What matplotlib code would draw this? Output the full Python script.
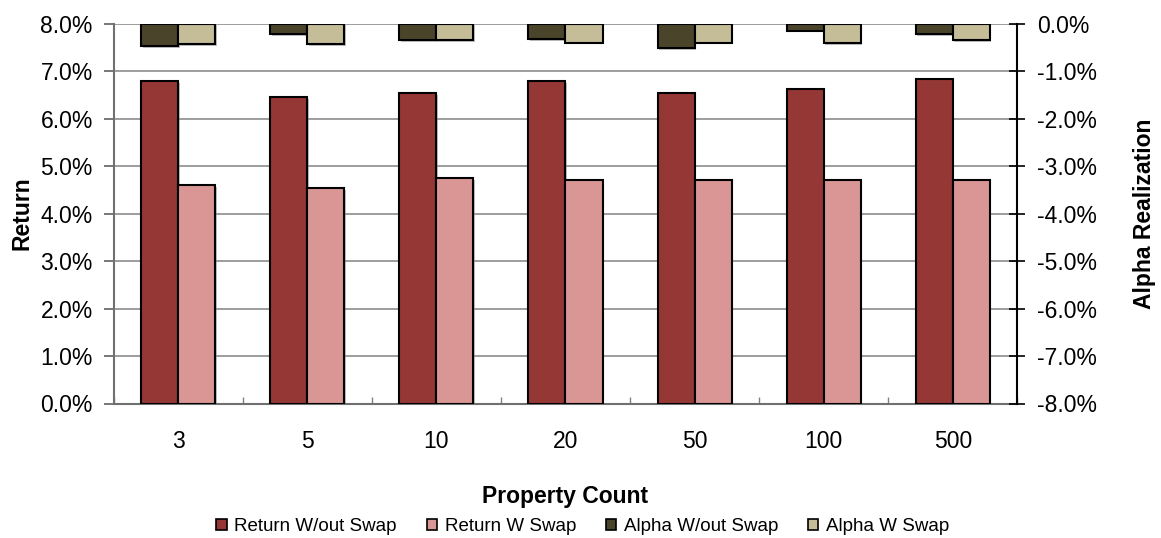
import matplotlib
matplotlib.use("Agg")
import matplotlib.pyplot as plt
import matplotlib.patheffects as pe
from matplotlib.patches import Patch
from matplotlib.ticker import FuncFormatter, MultipleLocator
import numpy as np

plt.rcParams['font.family'] = ['Liberation Sans', 'DejaVu Sans']

categories = ["3", "5", "10", "20", "50", "100", "500"]
return_without_swap = [6.79, 6.45, 6.54, 6.79, 6.54, 6.62, 6.83]
return_with_swap = [4.59, 4.54, 4.75, 4.71, 4.71, 4.71, 4.71]
alpha_without_swap = [-0.47, -0.23, -0.35, -0.33, -0.52, -0.15, -0.23]
alpha_with_swap = [-0.44, -0.44, -0.35, -0.40, -0.40, -0.41, -0.35]

c_ret_wo = "#953735"
c_ret_w = "#D99694"
c_alp_wo = "#4A442A"
c_alp_w = "#C4BD97"

fs = 16.5

fig = plt.figure(figsize=(11.61, 5.38), dpi=100)
ax = fig.add_axes([0.0979, 0.25, 0.7783, 0.7063])
ax2 = ax.twinx()

x = np.arange(len(categories))
w = 0.287
shadow = [pe.SimplePatchShadow(offset=(1.2, -1.2), shadow_rgbFace="#808080", alpha=0.5), pe.Normal()]
edge = dict(edgecolor="black", linewidth=1.5, path_effects=shadow)

ax.bar(x - w / 2, return_without_swap, w, color=c_ret_wo, zorder=3, **edge)
ax.bar(x + w / 2, return_with_swap, w, color=c_ret_w, zorder=3, **edge)
ax2.bar(x - w / 2, alpha_without_swap, w, color=c_alp_wo, zorder=3, **edge)
ax2.bar(x + w / 2, alpha_with_swap, w, color=c_alp_w, zorder=3, **edge)

ax.set_xlim(-0.5, len(categories) - 0.5)
ax.set_ylim(0, 8)
ax2.set_ylim(-8, 0)
ax.yaxis.set_major_locator(MultipleLocator(1))
ax2.yaxis.set_major_locator(MultipleLocator(1))
pct = FuncFormatter(lambda v, p: f"{v:.1f}%")
ax.yaxis.set_major_formatter(pct)
ax2.yaxis.set_major_formatter(pct)

ax.grid(axis="y", color="#8c8c8c", linewidth=1.2, zorder=0)
ax.set_axisbelow(True)

# x axis: labels at category centres, small inward ticks at the boundaries
ax.set_xticks(x)
ax.set_xticklabels(categories, fontsize=fs)
ax.tick_params(axis="x", length=0, pad=19)
ax.set_xticks(np.arange(len(categories) + 1) - 0.5, minor=True)
ax.tick_params(axis="x", which="minor", direction="in", length=5, color="#808080", width=1)

ax.tick_params(axis="y", labelsize=fs, direction="out", length=7, color="#606060", width=1.2, pad=8)
ax2.tick_params(axis="y", labelsize=fs, direction="inout", length=12, color="black", width=1.2, pad=8)

ax.spines["top"].set_visible(False)
ax2.spines["top"].set_visible(False)
ax.spines["left"].set_color("#707070")
ax.spines["left"].set_linewidth(1.5)
ax.spines["bottom"].set_color("#707070")
ax.spines["bottom"].set_linewidth(1.5)
ax.spines["right"].set_visible(False)
ax2.spines["left"].set_visible(False)
ax2.spines["bottom"].set_visible(False)
ax2.spines["right"].set_color("black")
ax2.spines["right"].set_linewidth(1.5)

ax.set_ylabel("Return", fontsize=fs, fontweight="bold", labelpad=5)
ax2.set_ylabel("Alpha Realization", fontsize=fs, fontweight="bold", labelpad=26)
ax.set_xlabel("Property Count", fontsize=fs, fontweight="bold", labelpad=23)

handles = [
    Patch(facecolor=c_ret_wo, edgecolor="black", linewidth=1.2, label="Return W/out Swap"),
    Patch(facecolor=c_ret_w, edgecolor="black", linewidth=1.2, label="Return W Swap"),
    Patch(facecolor=c_alp_wo, edgecolor="black", linewidth=1.2, label="Alpha W/out Swap"),
    Patch(facecolor=c_alp_w, edgecolor="black", linewidth=1.2, label="Alpha W Swap"),
]
fig.legend(handles=handles, loc="center", bbox_to_anchor=(0.502, 0.021), ncol=4,
           frameon=False, fontsize=13.5, handlelength=0.55, handleheight=0.55,
           handletextpad=0.4, columnspacing=1.6)

fig.savefig("out.png", dpi=100)
